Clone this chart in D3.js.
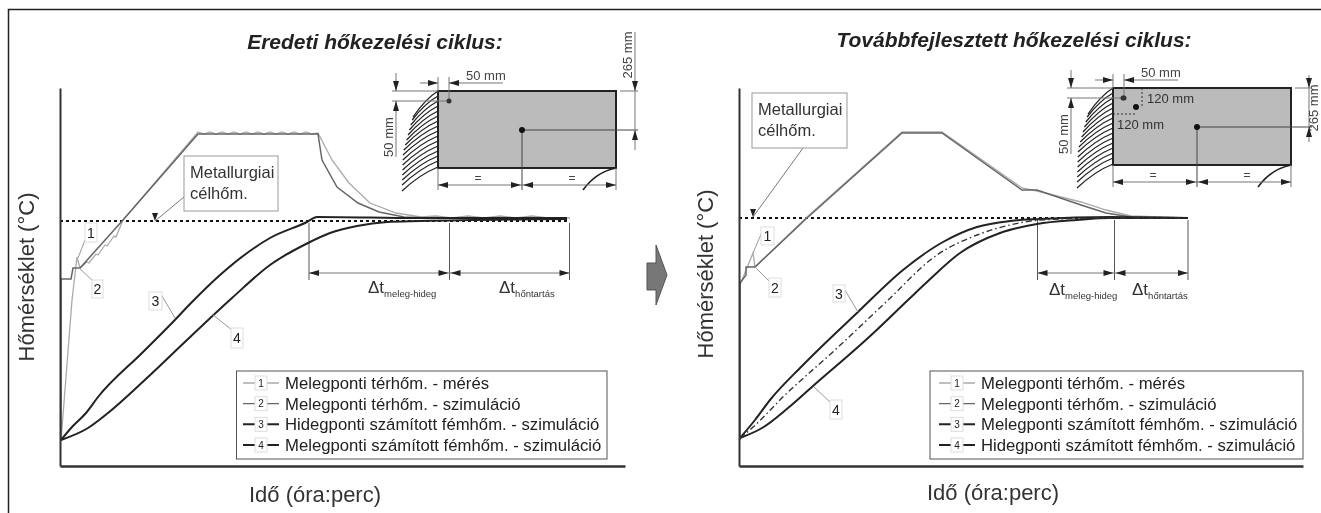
<!DOCTYPE html>
<html>
<head>
<meta charset="utf-8">
<script src="https://cdn.jsdelivr.net/npm/d3@7"></script>
<style>
  body { margin: 0; background: #fff; }
  svg { filter: blur(0.45px); }
  text { font-family: "Liberation Sans", Arial, sans-serif; fill: #222; }
</style>
</head>
<body>
<script>
const leftMeasured = [[1,25],[12,166],[17,209],[20,198],[27,204],[29,203],[36,212],[38,211],[45,221],[47,220],[54,230],[56,229],[63,246],[138,334],
  [144,332],[150,334],[156,332],[162,334],[168,332],[174,334],[180,332],[186,334],[192,332],[198,334],[204,332],[210,334],[216,332],[222,334],[228,332],[234,334],[240,332],[246,334],[252,332],[258,333],
  [272,306],[289,283],[310,263],[336,253],[361,249],[376,250],[392,248],[408,250],[424,248],[440,250],[456,248],[472,250],[488,248],[510,248]];
const leftSimAir = [[1,25],[1,187],[11,187],[13,198],[20,198],[63,246],[138,332],[258,332],[262,306],[277,279],[298,263],[319,254],[344,249],[370,248],[440,248],[507,247]];
const leftMetalCold = [[1,26],[12,39],[26,53],[38,69],[82,113],[110,141],[133,165],[160,191],[210,228],[247,244],[257,249],[360,248],[507,248]];
const leftMetalHot = [[1,26],[28,38],[48,53],[88,89],[128,127],[172,168],[210,201],[248,223],[270,233],[297,240],[327,244],[360,245],[507,247]];

const rightMeasured = [[1,26],[1,181],[14,213],[16,199],[68,249],[163,334],[203,334],[283,278],[298,275],[342,264],[367,256],[392,250],[449,248]];
const rightSimAir = [[1,26],[1,183],[7,191],[7,199],[16,199],[68,248],[163,333],[203,333],[283,276],[298,276],[342,261],[367,253],[392,249],[449,248]];
const rightMetalHot = [[1,28],[16,46],[31,66],[63,100],[119,154],[164,196],[204,224],[238,239],[271,245],[301,247],[371,249],[449,248]];
const rightMetalCold = [[1,28],[23,38],[49,58],[74,80],[129,128],[169,166],[188,184],[221,213],[261,233],[298,242],[338,246],[371,248],[449,248]];
const rightMetalMid = [[1,28],[13,38],[46,71],[96,116],[146,163],[198,211],[238,231],[271,241],[301,246],[371,248],[449,248]];

const leftTarget = 245;
const rightTarget = 248;

const leftLegend = ["Melegponti térhőm. - mérés", "Melegponti térhőm. - szimuláció", "Hidegponti számított fémhőm. - szimuláció", "Melegponti számított fémhőm. - szimuláció"];
const rightLegend = ["Melegponti térhőm. - mérés", "Melegponti térhőm. - szimuláció", "Melegponti számított fémhőm. - szimuláció", "Hidegponti számított fémhőm. - szimuláció"];

const hatchStarts = [91,96,101,106,111,116,121,126,131,136,141,146,151,156,161,167];

const width = 1321;
const height = 513;
const seriesStyle = [
  { stroke: "#aaa", sw: 1.3 },
  { stroke: "#666", sw: 1.5 },
  { stroke: "#222", sw: 2 },
  { stroke: "#222", sw: 2 },
];

const svg = d3.select("body").append("svg").attr("width", width).attr("height", height).style("display", "block");

// frame
svg.append("path").attr("d", `M8.5 ${height + 2} V9.5 H${width + 2}`).attr("fill", "none").attr("stroke", "#222").attr("stroke-width", 1.5);

const seg = (g, x1, y1, x2, y2, stroke = "#777", sw = 1) =>
  g.append("line").attr("x1", x1).attr("y1", y1).attr("x2", x2).attr("y2", y2).attr("stroke", stroke).attr("stroke-width", sw);

const head = (g, x, y, dir, len = 10, w = 3) => {
  const p = {
    r: [[x, y], [x - len, y - w], [x - len, y + w]],
    l: [[x, y], [x + len, y - w], [x + len, y + w]],
    d: [[x, y], [x - w, y - len], [x + w, y - len]],
    u: [[x, y], [x - w, y + len], [x + w, y + len]],
  }[dir];
  g.append("polygon").attr("points", p.join(" ")).attr("fill", "#222");
};

const label = (g, x, y, txt, size, opts = {}) => {
  const t = g.append("text").attr("x", x).attr("y", y).attr("font-size", size).text(txt);
  if (opts.anchor) t.attr("text-anchor", opts.anchor);
  if (opts.rotate) t.attr("transform", `rotate(-90 ${x} ${y})`);
  if (opts.fill) t.style("fill", opts.fill);
  return t;
};

const deltaLabel = (g, x, y, sub) => {
  const t = g.append("text").attr("x", x).attr("y", y).attr("font-size", 17).style("fill", "#333").text("Δt");
  t.append("tspan").attr("font-size", 9.5).attr("dy", 4).text(sub);
};

const numBox = (g, x0, x1, y0, y1, n, from, to) => {
  seg(g, from[0], from[1], to[0], to[1], "#999", 1);
  g.append("rect").attr("x", x0).attr("y", y0).attr("width", x1 - x0).attr("height", y1 - y0).attr("fill", "#fff").attr("stroke", "#ddd");
  label(g, (x0 + x1) / 2, (y0 + y1) / 2 + 5, n, 14, { anchor: "middle" });
};

const drawInset = (g, o) => {
  const edge = d3.scaleLinear().domain([91, 117, 153, 190]).range([438, 413, 403, 402]);
  hatchStarts.forEach((y) => {
    const ey = y + (y === 91 ? 26 : 24);
    const ex = edge(ey);
    g.append("path").attr("d", `M438 ${y} Q${ex + (438 - ex) * 0.5} ${y + (ey - y) * 0.3} ${ex} ${ey}`)
      .attr("fill", "none").attr("stroke", "#222").attr("stroke-width", 1.3);
  });
  g.append("rect").attr("x", 438).attr("y", 91).attr("width", 178).attr("height", 77).attr("fill", "#bbb").attr("stroke", "#222").attr("stroke-width", 2);
  g.append("path").attr("d", "M616 168 Q596 172 583 190").attr("fill", "none").attr("stroke", "#222").attr("stroke-width", 1.6);

  // left side
  seg(g, 392, 91, 438, 91);
  seg(g, 392, 101, 449, 101);
  seg(g, 396, 73, 396, 91);
  head(g, 396, 91, "d");
  seg(g, 396, 101, 396, 157);
  head(g, 396, 101, "u");
  label(g, 393, 137, "50 mm", 13, { anchor: "middle", rotate: true, fill: "#444" });

  // top
  seg(g, 438, 77, 438, 91);
  seg(g, 449, 77, 449, 101);
  seg(g, 420, 83, 438, 83);
  head(g, 438, 83, "r");
  seg(g, 449, 83, 503, 83);
  head(g, 449, 83, "l");
  label(g, 466, 80, "50 mm", 13, { fill: "#444" });

  // bottom
  seg(g, 438, 168, 438, 190);
  seg(g, 616, 168, 616, 190);
  seg(g, 438, 185, 616, 185);
  head(g, 438, 185, "l");
  head(g, 521, 185, "r");
  head(g, 523, 185, "l");
  head(g, 616, 185, "r");
  label(g, 478, 182, "=", 12, { anchor: "middle", fill: "#444" });
  label(g, 572, 182, "=", 12, { anchor: "middle", fill: "#444" });

  // centre and corner points
  seg(g, 522, 130, o.dimX + 3, 130, "#444");
  seg(g, 522, 130, 522, 190, "#444");
  g.append("circle").attr("cx", 522).attr("cy", 130).attr("r", 3).attr("fill", "#111");
  g.append("circle").attr("cx", 449).attr("cy", 101).attr("r", 2.5).attr("fill", "#333");

  // right side
  seg(g, 620, 91, o.dimX + 3, 91);
  seg(g, o.dimX, o.dimTop, o.dimX, o.dimBottom);
  head(g, o.dimX, 91, "d");
  head(g, o.dimX, 130, "u");
  label(g, o.textX, o.textY, "265 mm", 13, { anchor: "middle", rotate: true, fill: "#444" });
};

const drawPanel = (p) => {
  const g = svg.append("g");
  const x = d3.scaleLinear().domain([0, p.axisEnd - p.axisX]).range([p.axisX, p.axisEnd]);
  const y = d3.scaleLinear().domain([0, 378]).range([466, 88]);
  const xAxis = d3.axisBottom(x).tickValues([]).tickSizeOuter(0);
  const yAxis = d3.axisLeft(y).tickValues([]).tickSizeOuter(0);

  const line = d3.line().x((d) => x(d[0])).y((d) => y(d[1]));
  const smooth = d3.line().x((d) => x(d[0])).y((d) => y(d[1])).curve(d3.curveMonotoneX);

  // brackets go under the curves
  p.brackets.forEach((t) => seg(g, x(t), y(p.target) + 2, x(t), 280, "#555"));
  seg(g, x(p.brackets[0]), 273, x(p.brackets[2]), 273, "#777");
  head(g, x(p.brackets[0]), 273, "l");
  head(g, x(p.brackets[1]) - 1, 273, "r");
  head(g, x(p.brackets[1]) + 1, 273, "l");
  head(g, x(p.brackets[2]), 273, "r");

  g.append("path").attr("d", line([[0, p.target], [p.brackets[2] - 1, p.target]]))
    .attr("fill", "none").attr("stroke", "#111").attr("stroke-width", 2).attr("stroke-dasharray", "3 3");

  g.append("path").attr("d", line(p.measured)).attr("fill", "none").attr("stroke", seriesStyle[0].stroke).attr("stroke-width", seriesStyle[0].sw);
  g.append("path").attr("d", line(p.simAir)).attr("fill", "none").attr("stroke", seriesStyle[1].stroke).attr("stroke-width", seriesStyle[1].sw);
  p.metals.forEach((m) => {
    g.append("path").attr("d", smooth(m)).attr("fill", "none").attr("stroke", "#222").attr("stroke-width", 2);
  });
  if (p.mid) {
    g.append("path").attr("d", smooth(p.mid)).attr("fill", "none").attr("stroke", "#333").attr("stroke-width", 1.4).attr("stroke-dasharray", "6 3 1.5 3");
  }

  // axes
  const ax = g.append("g").attr("transform", `translate(0 466)`).call(xAxis);
  ax.select(".domain").attr("stroke", "#333").attr("stroke-width", 2.4);
  const ay = g.append("g").attr("transform", `translate(${p.axisX} 0)`).call(yAxis);
  ay.select(".domain").attr("stroke", "#333").attr("stroke-width", 2);

  g.append("text").attr("x", p.titleX).attr("y", p.titleY).attr("text-anchor", "middle")
    .attr("font-size", 21).attr("font-weight", "bold").attr("font-style", "italic").text(p.title);
  label(g, p.yLabelX, p.yLabelY, "Hőmérséklet (°C)", 22, { anchor: "middle", rotate: true, fill: "#333" });
  label(g, p.xLabelX, p.xLabelY, "Idő (óra:perc)", 22, { anchor: "middle", fill: "#333" });

  deltaLabel(g, p.deltaX[0], p.deltaY, "meleg-hideg");
  deltaLabel(g, p.deltaX[1], p.deltaY, "hőntartás");

  // target temperature callout
  const b = p.box;
  seg(g, b.from[0], b.from[1], b.to[0], b.to[1], "#777");
  head(g, b.to[0], b.to[1], b.dir, 8, 3);
  g.append("rect").attr("x", b.x0).attr("y", b.y0).attr("width", b.x1 - b.x0).attr("height", b.y1 - b.y0).attr("fill", "#fff").attr("stroke", "#999");
  label(g, b.x0 + 6, b.y0 + 22, "Metallurgiai", 16.5, { fill: "#333" });
  label(g, b.x0 + 6, b.y0 + 43, "célhőm.", 16.5, { fill: "#333" });

  p.nums.forEach((n) => numBox(g, ...n));

  // legend
  const lg = p.legend;
  g.append("rect").attr("x", lg.x0).attr("y", 371).attr("width", lg.x1 - lg.x0).attr("height", 88).attr("fill", "#fff").attr("stroke", "#555");
  const rowY = d3.scalePoint().domain(d3.range(4)).range([383, 445]);
  lg.names.forEach((name, i) => {
    seg(g, lg.keyX, rowY(i), lg.keyX + 36, rowY(i), seriesStyle[i].stroke, i > 1 ? 2 : 1.3);
    g.append("rect").attr("x", lg.keyX + 12).attr("y", rowY(i) - 7).attr("width", 12).attr("height", 14).attr("fill", "#fff").attr("stroke", "#ddd");
    label(g, lg.keyX + 18, rowY(i) + 3.5, i + 1, 10, { anchor: "middle" });
    label(g, lg.textX, rowY(i) + 6, name, 16.7);
  });

  const inset = g.append("g").attr("transform", `translate(${p.insetDx} ${p.insetDy})`);
  drawInset(inset, p.inset);
  if (p.insetExtra) p.insetExtra(inset);
};

drawPanel({
  title: "Eredeti hőkezelési ciklus:", titleX: 375, titleY: 49,
  axisX: 60, axisEnd: 625,
  measured: leftMeasured, simAir: leftSimAir, metals: [leftMetalCold, leftMetalHot],
  target: leftTarget,
  brackets: [249, 389.5, 509.5],
  yLabelX: 34, yLabelY: 277, xLabelX: 315, xLabelY: 502,
  deltaX: [368, 499], deltaY: 293,
  box: { x0: 184, x1: 278, y0: 156, y1: 211, from: [184, 197], to: [155, 221], dir: "d" },
  nums: [
    [85, 97, 223, 242, "1", [85, 240], [78, 258]],
    [92, 103, 280, 298, "2", [93, 281], [79, 268]],
    [149, 162, 292, 310, "3", [162, 296], [175, 318]],
    [231, 243, 328, 348, "4", [232, 330], [213, 315]],
  ],
  legend: { x0: 236.5, x1: 607, keyX: 243, textX: 285, names: leftLegend },
  insetDx: 0, insetDy: 0,
  inset: { dimX: 635, dimTop: 32, dimBottom: 150, textX: 632, textY: 55 },
});

drawPanel({
  title: "Továbbfejlesztett hőkezelési ciklus:", titleX: 1014, titleY: 47,
  axisX: 739, axisEnd: 1303,
  measured: rightMeasured, simAir: rightSimAir, metals: [rightMetalHot, rightMetalCold], mid: rightMetalMid,
  target: rightTarget,
  brackets: [298.5, 375.5, 449],
  yLabelX: 713, yLabelY: 274, xLabelX: 993, xLabelY: 500,
  deltaX: [1049, 1132], deltaY: 295,
  box: { x0: 752, x1: 847, y0: 93, y1: 148, from: [803, 148], to: [753, 217], dir: "d" },
  nums: [
    [761, 774, 227, 245, "1", [762, 232], [753, 253]],
    [769, 781, 278, 297, "2", [770, 282], [755, 267]],
    [833, 845, 285, 302, "3", [845, 290], [858, 312]],
    [830, 842, 400, 419, "4", [831, 403], [814, 387]],
  ],
  legend: { x0: 930, x1: 1303, keyX: 939, textX: 981, names: rightLegend },
  insetDx: 675, insetDy: -3,
  inset: { dimX: 634, dimTop: 78, dimBottom: 145, textX: 643, textY: 111 },
  insetExtra: (g) => {
    g.append("circle").attr("cx", 448).attr("cy", 101).attr("r", 2.5).attr("fill", "#333");
    g.append("circle").attr("cx", 461).attr("cy", 110).attr("r", 3).attr("fill", "#111");
    seg(g, 467, 91, 467, 110, "#333").attr("stroke-dasharray", "2 2");
    seg(g, 438, 117, 461, 117, "#333").attr("stroke-dasharray", "2 2");
    label(g, 472, 106, "120 mm", 13, { fill: "#333" });
    label(g, 442, 132, "120 mm", 13, { fill: "#333" });
  },
});

// arrow between the panels
svg.append("polygon")
  .attr("points", "647,263 656,263 656,245 667,275 656,305 656,290 647,290")
  .attr("fill", "#777").attr("stroke", "#555");
</script>
</body>
</html>
